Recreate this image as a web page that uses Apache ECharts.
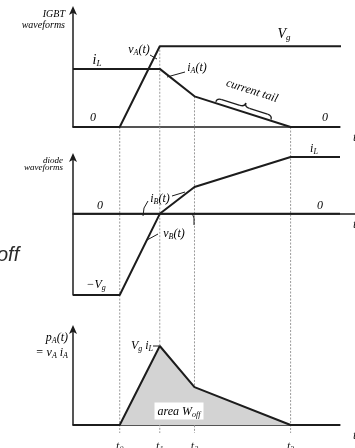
<!DOCTYPE html>
<html><head><meta charset="utf-8">
<script src="https://cdn.jsdelivr.net/npm/echarts@6/dist/echarts.min.js"></script>
<style>html,body{margin:0;padding:0;background:#fff}#c{width:355px;height:448px}</style>
</head><body><div id="c"></div>
<script>
// Switching instants t0..t3 (arbitrary time units) and end of the window
const tickTimes = [1.75, 3.25, 4.55, 8.15];
const tickSubs = ['0', '1', '2', '3'];
const tEnd = 10;

// IGBT waveforms, normalised to Vg = 1
const vA = [[0, 0], [1.75, 0], [3.25, 1], [10.2, 1]];
const iA = [[0, 0.72], [3.25, 0.72], [4.55, 0.38], [8.15, 0], [10, 0]];
// Diode waveforms
const iB = [[0, 0], [3.25, 0], [4.55, 0.33], [8.15, 0.70], [10, 0.70]];
const vB = [[0, -1], [1.75, -1], [3.25, 0], [10, 0]];
// IGBT instantaneous power, normalised to Vg*iL = 1
const pA = [[0, 0], [1.75, 0], [3.25, 1], [4.55, 0.48], [8.15, 0], [10, 0]];

const INK = '#1c1c1c';
const SERIF = 'Liberation Serif';

const rich = {
  i: { fontFamily: SERIF, fontStyle: 'italic', fontSize: 12, color: INK, lineHeight: 14 },
  s: { fontFamily: SERIF, fontStyle: 'italic', fontSize: 8, color: INK, lineHeight: 8, verticalAlign: 'bottom' },
  I: { fontFamily: SERIF, fontStyle: 'italic', fontSize: 14, color: INK, lineHeight: 16 },
  S: { fontFamily: SERIF, fontStyle: 'italic', fontSize: 9, color: INK, lineHeight: 9, verticalAlign: 'bottom' },
  w: { fontFamily: SERIF, fontStyle: 'italic', fontSize: 10, color: INK, lineHeight: 11 },
  d: { fontFamily: SERIF, fontStyle: 'italic', fontSize: 9, color: INK, lineHeight: 8 }
};

// grid layout: top panel, diode panel, power panel, full-height overlay for time guides
const PLOT_W = 267;
const G = [
  { left: 73, width: PLOT_W, top: 10, height: 117 },
  { left: 73, width: 282, top: 157, height: 138 },
  { left: 73, width: PLOT_W, top: 329, height: 96 },
  { left: 73, width: PLOT_W, top: 10, height: 423 }
].map(g => Object.assign({ outerBoundsMode: 'none', containLabel: false }, g));
// the diode panel's time axis runs on past the others, on the same time scale
const xMaxes = G.map(g => tEnd * g.width / PLOT_W);
const yRanges = [[0, 1.45], [-1, 0.70], [0, 1.215]];
// overlay uses the same vertical scale as the top panel so guides start on its curves
const pxPerUnit = G[0].height / (yRanges[0][1] - yRanges[0][0]);
const overlayMin = yRanges[0][1] - G[3].height / pxPerUnit;

function valueAt(series, t) {
  const p = series.find(q => Math.abs(q[0] - t) < 1e-9);
  return p ? p[1] : -Infinity;
}
const guideTop = tickTimes.map(t => Math.max(valueAt(vA, t), valueAt(iA, t), 0));

const axisLineStyle = { color: INK, width: 1.5 };
function xAxisFor(i, visible, gap) {
  return {
    type: 'value', gridIndex: i, min: 0, max: xMaxes[i],
    show: visible,
    axisLine: { show: visible, onZero: true, lineStyle: axisLineStyle },
    axisTick: { show: false }, splitLine: { show: false },
    axisLabel: { show: false },
    name: visible ? 't' : '', nameLocation: 'end', nameGap: gap,
    nameTextStyle: { fontFamily: SERIF, fontStyle: 'italic', fontSize: 13, color: INK, verticalAlign: 'top', padding: [4, 0, 0, 0] }
  };
}
const xAxes = [xAxisFor(0, true, 13), xAxisFor(1, true, -2), xAxisFor(2, true, 13), xAxisFor(3, false, 0)];
xAxes[2].axisLabel = {
  show: true, customValues: tickTimes, margin: 15,
  formatter: v => '{i|t}{s|' + tickSubs[tickTimes.indexOf(v)] + '}',
  rich: rich
};

const yAxes = yRanges.map((r, i) => ({
  type: 'value', gridIndex: i, min: r[0], max: r[1],
  axisLine: { show: true, onZero: false, symbol: ['none', 'arrow'], symbolSize: [6, 9], symbolOffset: [0, 4], lineStyle: axisLineStyle },
  axisTick: { show: false }, splitLine: { show: false }, axisLabel: { show: false }
}));
yAxes.push({ type: 'value', gridIndex: 3, min: overlayMin, max: yRanges[0][1], show: false });

function curve(data, gi, extra) {
  return Object.assign({
    type: 'line', xAxisIndex: gi, yAxisIndex: gi, data: data,
    showSymbol: false, symbol: 'none', clip: false, z: 5,
    lineStyle: { color: INK, width: 2 }
  }, extra || {});
}

const series = [
  curve(vA, 0), curve(iA, 0),
  curve(iB, 1), curve(vB, 1),
  curve(pA, 2, { areaStyle: { color: '#d3d3d3', opacity: 1 }, z: 4 })
];
tickTimes.forEach((t, k) => {
  series.push({
    type: 'line', xAxisIndex: 3, yAxisIndex: 3, z: 1, silent: true,
    symbol: 'none', data: [[t, guideTop[k]], [t, overlayMin]],
    lineStyle: { color: '#9a9a9a', width: 1, type: [2, 1.5] }
  });
});

function txt(x, y, text, opt) {
  return Object.assign({
    type: 'text', x: x, y: y, z: 20, silent: true,
    style: Object.assign({ text: text, rich: rich, align: 'center', verticalAlign: 'middle' }, (opt && opt.style) || {})
  }, opt && opt.el || {});
}
function seg(pts, w) {
  return { type: 'polyline', z: 20, silent: true, shape: { points: pts }, style: { stroke: INK, lineWidth: w || 1, fill: null } };
}
function bez(x1, y1, cx, cy, x2, y2) {
  return { type: 'bezierCurve', silent: true, shape: { x1: x1, y1: y1, cpx1: cx, cpy1: cy, x2: x2, y2: y2 }, style: { stroke: INK, lineWidth: 1.3, fill: null } };
}
function ln(x1, y1, x2, y2) {
  return { type: 'line', silent: true, shape: { x1: x1, y1: y1, x2: x2, y2: y2 }, style: { stroke: INK, lineWidth: 1.3 } };
}

const graphic = [
  txt(65, 14, '{w|IGBT}', { style: { align: 'right' } }),
  txt(65, 25, '{w|waveforms}', { style: { align: 'right' } }),
  txt(284, 34, '{I|V}{S|g}'),
  txt(97, 60, '{I|i}{S|L}'),
  txt(139, 50, '{i|v}{s|A}{i|(t)}'),
  seg([[150, 55], [157, 59]]),
  txt(197, 68, '{i|i}{s|A}{i|(t)}'),
  seg([[185, 72], [167, 77]]),
  txt(93, 118, '{i|0}'),
  txt(325, 118, '{i|0}'),
  txt(252, 91, '{i|current tail}', { el: { rotation: -0.31 } }),
  {
    type: 'group', x: 217, y: 98, rotation: -0.31, z: 20, silent: true,
    children: [
      bez(0, 4, 0, 0, 5, 0), ln(5, 0, 24, 0), bez(24, 0, 29, 0, 29, -4),
      bez(29, -4, 29, 0, 34, 0), ln(34, 0, 53, 0), bez(53, 0, 58, 0, 58, 4)
    ]
  },

  txt(63, 161, '{d|diode}', { style: { align: 'right' } }),
  txt(63, 168, '{d|waveforms}', { style: { align: 'right' } }),
  txt(314, 149, '{i|i}{s|L}'),
  txt(100, 206, '{i|0}'),
  txt(320, 206, '{i|0}'),
  txt(160, 199, '{i|i}{s|B}{i|(t)}'),
  seg([[172, 196], [185, 192]]),
  seg([[148, 201], [144, 208], [143, 216]]),
  txt(174, 234, '{i|v}{s|B}{i|(t)}'),
  seg([[158, 234], [147, 240]]),
  seg([[194, 225], [194, 218], [192, 213]]),
  txt(96, 285, '{i|\u2212V}{s|g}'),
  txt(-3, 255, 'off', { style: { align: 'left', fontFamily: 'Liberation Sans', fontStyle: 'italic', fontSize: 20, fill: '#2a2a2a', rich: null } }),

  txt(68, 338, '{i|p}{s|A}{i|(t)}', { style: { align: 'right' } }),
  txt(68, 353, '{i|= v}{s|A}{i| i}{s|A}', { style: { align: 'right' } }),
  txt(142, 346, '{i|V}{s|g}{i| i}{s|L}'),
  seg([[153, 346], [159, 346]]),
  txt(179, 411, '{i|area W}{s|off}', { style: { backgroundColor: '#fff', padding: [2, 3, 1, 3] } })
];

const chart = echarts.init(document.getElementById('c'), null, { renderer: 'canvas' });
chart.setOption({
  animation: false,
  backgroundColor: '#fff',
  grid: G,
  xAxis: xAxes,
  yAxis: yAxes,
  series: series,
  graphic: graphic
});
</script>
</body></html>
